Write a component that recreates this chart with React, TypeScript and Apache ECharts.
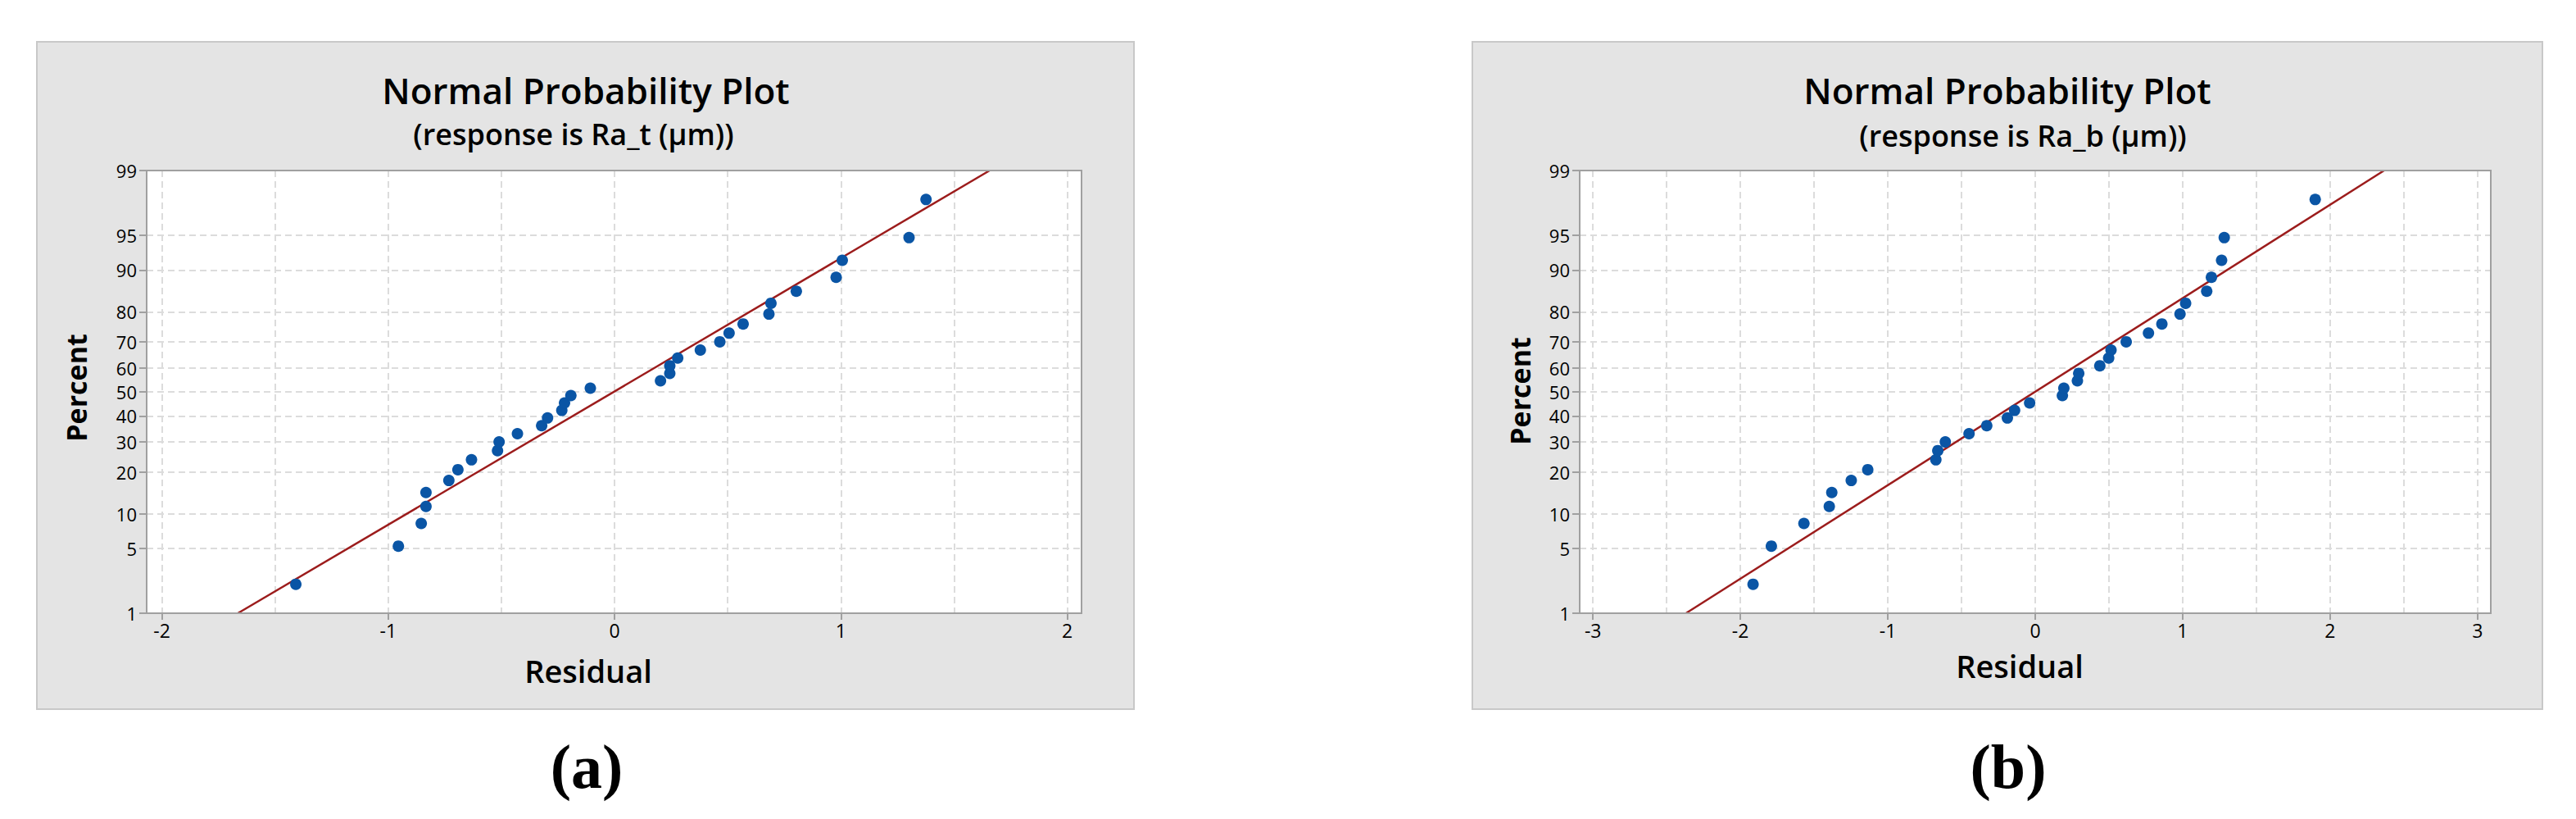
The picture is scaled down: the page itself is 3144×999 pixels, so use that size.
import React, { useEffect, useRef } from "react";
import * as echarts from "echarts";

// ---- data ----
const percentTicks = [1, 5, 10, 20, 30, 40, 50, 60, 70, 80, 90, 95, 99];

const xTicksA = [-2, -1, 0, 1, 2];
const xGridA = [-2, -1.5, -1, -0.5, 0, 0.5, 1, 1.5, 2];
const xTicksB = [-3, -2, -1, 0, 1, 2, 3];
const xGridB = [-3, -2.5, -2, -1.5, -1, -0.5, 0, 0.5, 1, 1.5, 2, 2.5, 3];

const percents = [
  2.16, 5.25, 8.33, 11.42, 14.51, 17.59, 20.68, 23.77, 26.85, 29.94, 33.02,
  36.11, 39.2, 42.28, 45.37, 48.46, 51.54, 54.63, 57.72, 60.8, 63.89, 66.98,
  70.06, 73.15, 76.23, 79.32, 82.41, 85.49, 88.58, 91.67, 94.75, 97.84,
];

const residualsA = [
  -1.408, -0.955, -0.854, -0.833, -0.833, -0.732, -0.692, -0.632, -0.517,
  -0.51, -0.429, -0.322, -0.296, -0.233, -0.221, -0.193, -0.107, 0.203, 0.244,
  0.244, 0.279, 0.379, 0.465, 0.506, 0.568, 0.682, 0.691, 0.803, 0.979, 1.006,
  1.301, 1.376,
];

const residualsB = [
  -1.914, -1.79, -1.569, -1.397, -1.38, -1.248, -1.136, -0.674, -0.661, -0.61,
  -0.449, -0.329, -0.189, -0.14, -0.038, 0.184, 0.194, 0.286, 0.295, 0.438,
  0.498, 0.514, 0.617, 0.768, 0.859, 0.982, 1.02, 1.163, 1.195, 1.264, 1.282,
  1.899,
];

// fitted lines: [residual, percent]
const fitLineA = [
  [-1.664, 1],
  [1.657, 99],
];
const fitLineB = [
  [-2.369, 1],
  [2.366, 99],
];

const xRangeA = [-2.067, 2.063];
const xRangeB = [-3.09, 3.09];

// ---- probability scale (inverse normal CDF) ----
function probit(pct: number): number {
  const p = pct / 100;
  const a = [-3.969683028665376e1, 2.209460984245205e2, -2.759285104469687e2, 1.38357751867269e2, -3.066479806614716e1, 2.506628277459239];
  const b = [-5.447609879822406e1, 1.615858368580409e2, -1.556989798598866e2, 6.680131188771972e1, -1.328068155288572e1];
  const c = [-7.784894002430293e-3, -3.223964580411365e-1, -2.400758277161838, -2.549671010229528, 4.374664141464968, 2.938163982698783];
  const d = [7.784695709041462e-3, 3.224671290700398e-1, 2.445134137142996, 3.754408661907416];
  const pl = 0.02425;
  const tail = (pp: number) => {
    const q = Math.sqrt(-2 * Math.log(pp));
    return (((((c[0] * q + c[1]) * q + c[2]) * q + c[3]) * q + c[4]) * q + c[5]) /
      ((((d[0] * q + d[1]) * q + d[2]) * q + d[3]) * q + 1);
  };
  if (p < pl) return tail(p);
  if (p > 1 - pl) return -tail(1 - p);
  const q = p - 0.5;
  const r = q * q;
  return ((((((a[0] * r + a[1]) * r + a[2]) * r + a[3]) * r + a[4]) * r + a[5]) * q) /
    (((((b[0] * r + b[1]) * r + b[2]) * r + b[3]) * r + b[4]) * r + 1);
}

const FONT = "'Open Sans', 'Noto Sans', sans-serif";
const AXIS_COLOR = "#a0a0a0";
const GRID_COLOR = "#dcdcdc";
const POINT_COLOR = "#0a55a5";
const LINE_COLOR = "#9c1c1c";

const yTickValues = percentTicks.map((p) => probit(p));
const yMin = probit(1);
const yMax = probit(99);

function yLabel(v: number): string {
  let best = 0;
  let bd = Infinity;
  yTickValues.forEach((t, i) => {
    const dd = Math.abs(t - v);
    if (dd < bd) {
      bd = dd;
      best = i;
    }
  });
  return String(percentTicks[best]);
}

function makeXAxes(gridIndex: number, range: number[], ticks: number[], grid: number[]) {
  return [
    {
      gridIndex,
      type: "value",
      min: range[0],
      max: range[1],
      position: "bottom",
      axisLine: { show: true, onZero: false, lineStyle: { color: AXIS_COLOR, width: 2 } },
      axisTick: { show: true, customValues: ticks, length: 8, lineStyle: { color: AXIS_COLOR, width: 2 } },
      axisLabel: { show: true, customValues: ticks, color: "#000", fontSize: 23, fontFamily: FONT, margin: 9 },
      splitLine: { show: false },
    },
    {
      gridIndex,
      type: "value",
      min: range[0],
      max: range[1],
      position: "top",
      axisLine: { show: false },
      axisTick: { show: false, customValues: grid },
      axisLabel: { show: false },
      splitLine: { show: true, lineStyle: { color: GRID_COLOR, width: 2, type: [8, 5] } },
    },
  ];
}

function makeYAxis(gridIndex: number) {
  return {
    gridIndex,
    type: "value",
    min: yMin,
    max: yMax,
    axisLine: { show: true, onZero: false, lineStyle: { color: AXIS_COLOR, width: 2 } },
    axisTick: { show: true, customValues: yTickValues, length: 9, lineStyle: { color: AXIS_COLOR, width: 2 } },
    axisLabel: {
      show: true,
      customValues: yTickValues,
      formatter: (v: number) => yLabel(v),
      color: "#000",
      fontSize: 22,
      fontFamily: FONT,
      margin: 12,
    },
    splitLine: { show: true, lineStyle: { color: GRID_COLOR, width: 2, type: [8, 5] } },
  };
}

function text(x: number, y: number, str: string, size: number, weight: any, extra: any = {}) {
  return {
    type: "text",
    x,
    y,
    z: 50,
    style: {
      text: str,
      fontSize: size,
      fontWeight: weight,
      fontFamily: FONT,
      fill: "#000",
      textAlign: "center",
      textVerticalAlign: "middle",
    },
    ...extra,
  };
}

function serifLabel(x: number, y: number, str: string) {
  return {
    type: "text",
    x,
    y,
    style: {
      text: str,
      fontSize: 76,
      fontWeight: "bold",
      fontFamily: "'Liberation Serif', 'DejaVu Serif', serif",
      fill: "#000",
      textAlign: "center",
      textVerticalAlign: "middle",
    },
  };
}

function plotBorder(x: number, y: number, w: number, h: number) {
  return {
    type: "rect",
    z: 100,
    silent: true,
    shape: { x, y, width: w, height: h },
    style: { fill: "none", stroke: AXIS_COLOR, lineWidth: 2 },
  };
}

export default function App() {
  const ref = useRef<HTMLDivElement>(null);
  useEffect(() => {
    if (!ref.current) return;
    const chart = echarts.init(ref.current, undefined, { renderer: "svg" });
    const option: any = {
      animation: false,
      backgroundColor: "#ffffff",
      grid: [
        { left: 179, top: 208, width: 1141, height: 540, show: false },
        { left: 1928, top: 208, width: 1112, height: 540, show: false },
      ],
      xAxis: [
        ...makeXAxes(0, xRangeA, xTicksA, xGridA),
        ...makeXAxes(1, xRangeB, xTicksB, xGridB),
      ],
      yAxis: [makeYAxis(0), makeYAxis(1)],
      series: [
        {
          type: "line",
          xAxisIndex: 0,
          yAxisIndex: 0,
          data: fitLineA.map((d) => [d[0], probit(d[1])]),
          showSymbol: false,
          lineStyle: { color: LINE_COLOR, width: 2.5 },
          z: 3,
        },
        {
          type: "scatter",
          xAxisIndex: 0,
          yAxisIndex: 0,
          data: residualsA.map((r, i) => [r, probit(percents[i])]),
          symbolSize: 14,
          itemStyle: { color: POINT_COLOR, opacity: 1 },
          z: 4,
        },
        {
          type: "line",
          xAxisIndex: 2,
          yAxisIndex: 1,
          data: fitLineB.map((d) => [d[0], probit(d[1])]),
          showSymbol: false,
          lineStyle: { color: LINE_COLOR, width: 2.5 },
          z: 3,
        },
        {
          type: "scatter",
          xAxisIndex: 2,
          yAxisIndex: 1,
          data: residualsB.map((r, i) => [r, probit(percents[i])]),
          symbolSize: 14,
          itemStyle: { color: POINT_COLOR, opacity: 1 },
          z: 4,
        },
      ],
      graphic: [
        {
          type: "rect",
          z: -100,
          shape: { x: 45, y: 51, width: 1339, height: 814 },
          style: { fill: "#e4e4e4", stroke: "#c8c8c8", lineWidth: 2 },
        },
        {
          type: "rect",
          z: -100,
          shape: { x: 1797, y: 51, width: 1306, height: 814 },
          style: { fill: "#e4e4e4", stroke: "#c8c8c8", lineWidth: 2 },
        },
        {
          type: "rect",
          z: -90,
          shape: { x: 179, y: 208, width: 1141, height: 540 },
          style: { fill: "#ffffff" },
        },
        {
          type: "rect",
          z: -90,
          shape: { x: 1928, y: 208, width: 1112, height: 540 },
          style: { fill: "#ffffff" },
        },
        plotBorder(179, 208, 1141, 540),
        plotBorder(1928, 208, 1112, 540),
        text(715, 110, "Normal Probability Plot", 44, 600),
        text(700, 163, "(response is Ra_t (µm))", 36, 600),
        text(2450, 110, "Normal Probability Plot", 44, 600),
        text(2469, 165, "(response is Ra_b (µm))", 36, 600),
        text(718, 818, "Residual", 38, 600),
        text(2465, 812, "Residual", 38, 600),
        text(93, 473, "Percent", 34, 700, { rotation: Math.PI / 2 }),
        text(1855, 477, "Percent", 34, 700, { rotation: Math.PI / 2 }),
        serifLabel(716, 935, "(a)"),
        serifLabel(2451, 935, "(b)"),
      ],
    };
    chart.setOption(option);
    return () => chart.dispose();
  }, []);
  return (
    <div
      ref={ref}
      style={{ position: "fixed", left: 0, top: 0, width: 3144, height: 999, background: "#fff" }}
    />
  );
}
